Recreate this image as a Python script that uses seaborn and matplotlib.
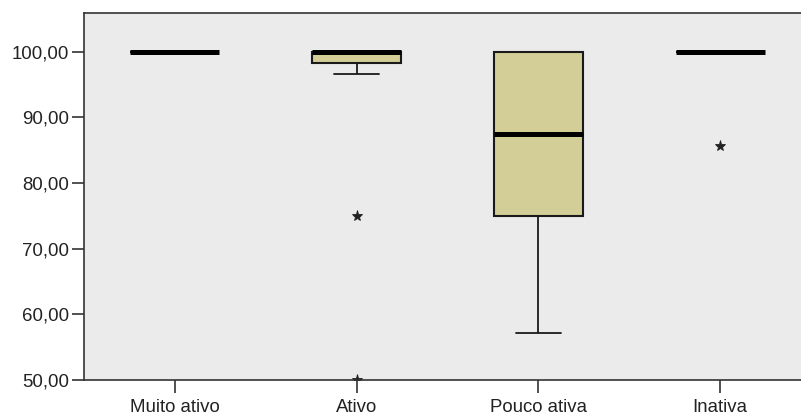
import matplotlib
matplotlib.use("Agg")
import matplotlib.pyplot as plt
import seaborn as sns
import pandas as pd

# Scores per activity group
categories = ["Muito ativo", "Ativo", "Pouco ativa", "Inativa"]
muito_ativo = [100.0] * 8
ativo = [50.0, 75.0, 96.67, 98.33, 98.33, 98.33] + [100.0] * 14
pouco_ativa = [57.14, 71.43, 75.0, 78.57, 87.5, 92.86, 100.0, 100.0, 100.0]
inativa = [85.71] + [100.0] * 9
y_ticks = [50, 60, 70, 80, 90, 100]
y_tick_labels = ["50,00", "60,00", "70,00", "80,00", "90,00", "100,00"]

groups = [muito_ativo, ativo, pouco_ativa, inativa]
df = pd.DataFrame({
    "grupo": [c for c, vals in zip(categories, groups) for _ in vals],
    "valor": [v for vals in groups for v in vals],
})

sns.set_style("white")
plt.rcParams["font.family"] = ["Liberation Sans", "DejaVu Sans"]

fig = plt.figure(figsize=(8.01, 4.15), dpi=100)
fig.patch.set_facecolor("white")
ax = fig.add_axes([84 / 801, 1 - 380 / 415, 727 / 801, (380 - 13.3) / 415])
ax.set_facecolor("#EBEBEB")

sns.boxplot(
    data=df, x="grupo", y="valor", order=categories, ax=ax,
    color="#D3CE97", saturation=1, width=0.49, whis=1.5,
    linecolor="#1a1a1a", linewidth=1.5,
    fliersize=8,
    flierprops=dict(marker="*", markerfacecolor="#222222",
                    markeredgecolor="#222222", markeredgewidth=0.6),
    medianprops=dict(color="black", linewidth=3.6, solid_capstyle="butt"),
    whiskerprops=dict(linewidth=1.3),
    capprops=dict(linewidth=1.3),
)

ax.set_xlim(-0.5, 3.5)
ax.set_ylim(50, 105.85)
ax.set_yticks(y_ticks)
ax.set_yticklabels(y_tick_labels)
ax.set_xlabel("")
ax.set_ylabel("")

for side in ["left", "bottom", "top", "right"]:
    ax.spines[side].set_visible(True)
    ax.spines[side].set_color("#333333")
    ax.spines[side].set_linewidth(1.2)

ax.tick_params(axis="y", direction="out", length=9, width=1.2, color="#333333",
               pad=1.5, labelsize=13.4, labelcolor="#222222", left=True)
ax.tick_params(axis="x", direction="out", length=9.5, width=1.2, color="#333333",
               pad=4, labelsize=13.4, labelcolor="#222222", bottom=True)

fig.savefig("out.png", dpi=100)
